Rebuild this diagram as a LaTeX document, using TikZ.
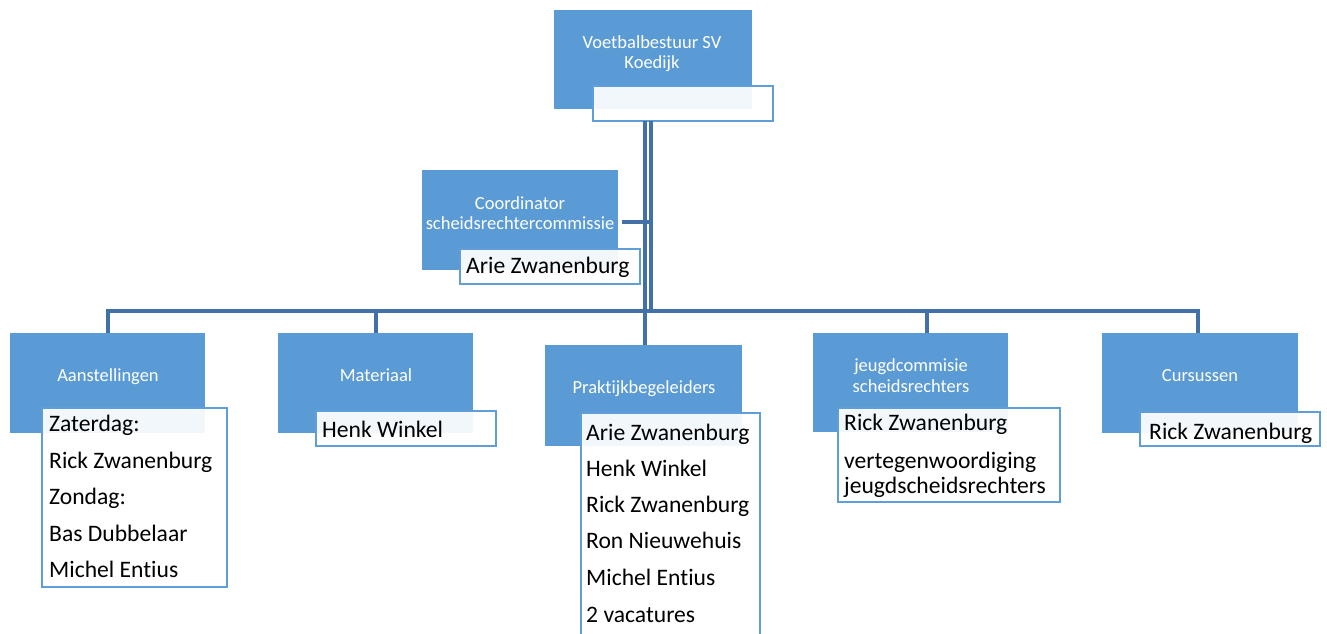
\documentclass[tikz,border=0pt]{standalone}
\usepackage{fontspec}
\setmainfont{Carlito}[Ligatures=NoCommon]
\definecolor{boxblue}{RGB}{91,155,213}
\definecolor{linkblue}{RGB}{65,113,166}
\definecolor{edgeblue}{RGB}{95,158,214}
\begin{document}
\begin{tikzpicture}[x=1pt,y=-1pt,
  bluebox/.style={fill=boxblue, draw=none, inner sep=0pt, outer sep=0pt, anchor=north west},
  namebox/.style={fill=white, fill opacity=0.92, draw=edgeblue, draw opacity=1, line width=2.8pt, inner sep=0pt, outer sep=0pt, anchor=north west},
  head/.style={text=white, font=\fontsize{18.5}{21}\selectfont, anchor=base, inner sep=0pt},
  body/.style={text=black, font=\fontsize{23.6}{25}\selectfont, anchor=base west, inner sep=0pt},
  link/.style={draw=linkblue, line width=3.4pt}]
\useasboundingbox (0,0) rectangle (1327,633);

% boxes
\node[bluebox, minimum width=198pt, minimum height=99pt] (topB) at (554,10) {};
\node[namebox, minimum width=180pt, minimum height=35pt] (topW) at (593,86) {};
\node[bluebox, minimum width=196pt, minimum height=100pt] (coB) at (422,170) {};
\node[namebox, minimum width=180pt, minimum height=35pt] (coW) at (460,249) {};
\node[bluebox, minimum width=195pt, minimum height=100pt] (aanB) at (10,333) {};
\node[namebox, minimum width=185pt, minimum height=179pt] (aanW) at (42,408) {};
\node[bluebox, minimum width=195pt, minimum height=100pt] (matB) at (278,333) {};
\node[namebox, minimum width=180pt, minimum height=35pt] (matW) at (316,411) {};
\node[bluebox, minimum width=197pt, minimum height=101pt] (prB) at (545,345) {};
\node[namebox, minimum width=179pt, minimum height=240pt] (prW) at (581,413) {};
\node[bluebox, minimum width=195pt, minimum height=99pt] (jgB) at (813,333) {};
\node[namebox, minimum width=222pt, minimum height=94pt] (jgW) at (838,408) {};
\node[bluebox, minimum width=196pt, minimum height=100pt] (cuB) at (1102,333) {};
\node[namebox, minimum width=180pt, minimum height=34pt] (cuW) at (1140,412) {};

% connectors
\coordinate (vL) at (645,311);
\coordinate (vR) at (651,311);
\coordinate (cJ) at (652,222);
\coordinate (cE) at (622,222);
\coordinate (dA) at (108,311);
\coordinate (dM) at (376,311);
\coordinate (dJ) at (927,311);
\coordinate (dC) at (1198,311);
\draw[link] (topW.south -| vL) -- (prB.north -| vL);
\draw[link] (topW.south -| vR) -- (vR);
\draw[link] (cJ) -- (cE);
\draw[link] (aanB.north -| dA) -- (dA) -- (dC) -- (cuB.north -| dC);
\draw[link] (dM) -- (matB.north -| dM);
\draw[link] (dJ) -- (jgB.north -| dJ);

% headings
\node[head] (t1) at (652,48) {Voetbalbestuur SV};
\node[head] (t2) at (652,68) {Koedijk};
\node[head] (c1) at (520,209) {Coordinator};
\node[head] (c2) at (520,229) {scheidsrechtercommissie};
\node[head] (a1) at (108,381) {Aanstellingen};
\node[head] (m1) at (376,381) {Materiaal};
\node[head] (p1) at (644,393) {Praktijkbegeleiders};
\node[head] (j1) at (911,371) {jeugdcommisie};
\node[head] (j2) at (911,392) {scheidsrechters};
\node[head] (k1) at (1200,381) {Cursussen};

% names
\node[body] (cn1) at (466,273) {Arie Zwanenburg};
\node[body] (an1) at (49,431) {Zaterdag:};
\node[body] (an2) at (49,468) {Rick Zwanenburg};
\node[body] (an3) at (49,504) {Zondag:};
\node[body] (an4) at (49,541) {Bas Dubbelaar};
\node[body] (an5) at (49,577) {Michel Entius};
\node[body] (mn1) at (322,437) {Henk Winkel};
\node[body] (pn1) at (586,440) {Arie Zwanenburg};
\node[body] (pn2) at (586,476) {Henk Winkel};
\node[body] (pn3) at (586,512) {Rick Zwanenburg};
\node[body] (pn4) at (586,548) {Ron Nieuwehuis};
\node[body] (pn5) at (586,585) {Michel Entius};
\node[body] (pn6) at (586,622) {2 vacatures};
\node[body] (jn1) at (844,430) {Rick Zwanenburg};
\node[body] (jn2) at (844,468) {vertegenwoordiging};
\node[body] (jn3) at (844,493) {jeugdscheidsrechters};
\node[body] (kn1) at (1149,439) {Rick Zwanenburg};
\end{tikzpicture}
\end{document}
